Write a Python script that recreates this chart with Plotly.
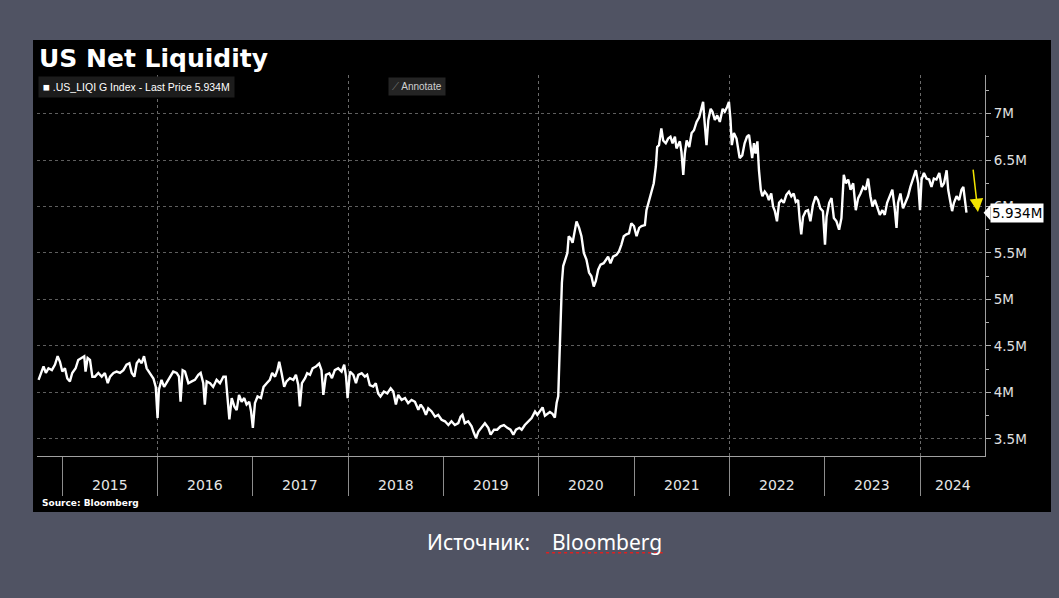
import plotly.graph_objects as go
import pandas as pd

# ---------------- data (values in millions) ----------------
dates = [
 "2014-10-03","2014-10-13","2014-10-22","2014-10-31","2014-11-10","2014-11-23","2014-12-05","2014-12-15","2014-12-24",
 "2015-01-02","2015-01-12","2015-01-21","2015-01-31","2015-02-09","2015-02-22","2015-03-04","2015-03-17","2015-03-27",
 "2015-04-01","2015-04-09","2015-04-18","2015-04-27","2015-05-07","2015-05-20","2015-06-02","2015-06-14","2015-06-25",
 "2015-07-04","2015-07-17","2015-07-29","2015-08-11","2015-08-24","2015-09-05","2015-09-16","2015-09-25","2015-10-05",
 "2015-10-14","2015-10-23","2015-11-02","2015-11-11","2015-11-21","2015-12-04","2015-12-17","2015-12-26",
 "2016-01-02","2016-01-07","2016-01-17","2016-01-27","2016-02-09","2016-02-18","2016-03-02","2016-03-15","2016-03-24",
 "2016-03-30","2016-04-07","2016-04-16","2016-04-29","2016-05-12","2016-05-24","2016-06-06","2016-06-15","2016-06-25",
 "2016-07-01","2016-07-08","2016-07-21","2016-08-02","2016-08-15","2016-08-28","2016-09-10","2016-09-19","2016-09-26",
 "2016-10-03","2016-10-12","2016-10-22","2016-10-31","2016-11-09","2016-11-19","2016-11-29","2016-12-08","2016-12-18",
 "2016-12-25",
 "2017-01-01","2017-01-09","2017-01-19","2017-02-01","2017-02-11","2017-02-23","2017-03-07","2017-03-16","2017-03-27",
 "2017-04-05","2017-04-12","2017-04-21","2017-05-01","2017-05-10","2017-05-23","2017-06-05","2017-06-15","2017-06-24",
 "2017-06-30","2017-07-08","2017-07-20","2017-07-28","2017-08-08","2017-08-18","2017-08-31","2017-09-12","2017-09-21",
 "2017-09-28","2017-10-08","2017-10-21","2017-10-31","2017-11-11","2017-11-24","2017-12-07","2017-12-17","2017-12-24",
 "2017-12-30",
 "2018-01-08","2018-01-21","2018-01-31","2018-02-09","2018-02-22","2018-03-06","2018-03-15","2018-03-25","2018-04-07",
 "2018-04-17","2018-04-26","2018-05-05","2018-05-18","2018-05-31","2018-06-13","2018-06-23","2018-07-03","2018-07-12",
 "2018-07-25","2018-08-07","2018-08-19","2018-09-01","2018-09-14","2018-09-27","2018-10-06","2018-10-16","2018-10-26",
 "2018-11-04","2018-11-17","2018-11-30","2018-12-12","2018-12-25",
 "2019-01-07","2019-01-20","2019-02-01","2019-02-14","2019-02-27","2019-03-08","2019-03-15","2019-03-24","2019-04-06",
 "2019-04-19","2019-04-28","2019-05-06","2019-05-15","2019-05-27","2019-06-09","2019-06-22","2019-07-01","2019-07-14",
 "2019-07-26","2019-08-08","2019-08-21","2019-09-03","2019-09-15","2019-09-26","2019-10-06","2019-10-19","2019-10-28",
 "2019-11-09","2019-11-22","2019-12-05","2019-12-18","2019-12-27",
 "2020-01-06","2020-01-16","2020-01-25","2020-02-03","2020-02-13","2020-02-23","2020-03-03","2020-03-10","2020-03-16",
 "2020-03-20","2020-03-25","2020-03-30","2020-04-04","2020-04-12","2020-04-20","2020-04-25","2020-05-02","2020-05-10",
 "2020-05-19","2020-05-25","2020-06-04","2020-06-13","2020-06-22","2020-07-02","2020-07-12","2020-07-21","2020-07-30",
 "2020-08-07","2020-08-16","2020-08-25","2020-09-06","2020-09-16","2020-09-23","2020-10-02","2020-10-12","2020-10-25",
 "2020-11-04","2020-11-13","2020-11-22","2020-12-02","2020-12-12","2020-12-21","2020-12-31",
 "2021-01-10","2021-01-20","2021-01-29","2021-02-11","2021-02-17","2021-02-27","2021-03-08","2021-03-17","2021-03-25",
 "2021-03-30","2021-04-06","2021-04-15","2021-04-22","2021-05-02","2021-05-11","2021-05-20","2021-05-28","2021-06-06",
 "2021-06-12","2021-06-18","2021-06-25","2021-07-01","2021-07-08","2021-07-14","2021-07-21","2021-07-31","2021-08-09",
 "2021-08-18","2021-08-28","2021-09-07","2021-09-16","2021-09-22","2021-09-27","2021-10-05","2021-10-12","2021-10-21",
 "2021-10-28","2021-11-06","2021-11-15","2021-11-25","2021-12-06","2021-12-14","2021-12-23","2021-12-30",
 "2022-01-05","2022-01-10","2022-01-18","2022-01-28","2022-02-09","2022-02-19","2022-02-28","2022-03-09","2022-03-17",
 "2022-03-23","2022-03-29","2022-04-05","2022-04-11","2022-04-18","2022-04-24","2022-05-01","2022-05-07","2022-05-16",
 "2022-05-25","2022-06-01","2022-06-10","2022-06-17","2022-06-24","2022-07-02","2022-07-10","2022-07-19","2022-07-28",
 "2022-08-07","2022-08-17","2022-08-26","2022-09-04","2022-09-12","2022-09-21","2022-09-27","2022-10-03","2022-10-10",
 "2022-10-20","2022-10-29","2022-11-07","2022-11-17","2022-11-27","2022-12-06","2022-12-15","2022-12-25",
 "2023-01-02","2023-01-08","2023-01-18","2023-01-27","2023-02-05","2023-02-15","2023-02-25","2023-03-06","2023-03-15",
 "2023-03-23","2023-04-01","2023-04-10","2023-04-20","2023-04-30","2023-05-09","2023-05-18","2023-05-28","2023-06-07",
 "2023-06-16","2023-06-25","2023-07-03","2023-07-12","2023-07-21","2023-07-31","2023-08-10","2023-08-19","2023-08-28",
 "2023-09-07","2023-09-17","2023-09-26","2023-10-03","2023-10-09","2023-10-18","2023-10-28","2023-11-07","2023-11-16",
 "2023-11-25","2023-12-05","2023-12-16","2023-12-25",
 "2024-01-01","2024-01-07","2024-01-16","2024-01-26","2024-02-05","2024-02-14","2024-02-23","2024-03-04","2024-03-15",
 "2024-03-24","2024-04-02","2024-04-12","2024-04-18","2024-04-25","2024-05-03","2024-05-10","2024-05-20","2024-05-30",
 "2024-06-08","2024-06-15","2024-06-21","2024-06-27",
]

liquidity = [
 4.136,4.225,4.28,4.21,4.26,4.24,4.30,4.39,4.33,
 4.225,4.26,4.15,4.12,4.21,4.26,4.35,4.37,4.39,
 4.225,4.37,4.35,4.17,4.17,4.21,4.17,4.21,4.10,
 4.17,4.21,4.225,4.21,4.24,4.30,4.315,4.21,4.17,
 4.315,4.35,4.315,4.39,4.26,4.21,4.15,4.06,
 3.725,4.03,4.136,4.06,4.12,4.17,4.225,4.21,4.17,
 3.90,4.24,4.225,4.10,4.12,4.136,4.19,4.21,4.10,
 3.87,4.12,4.10,4.06,4.136,4.10,4.17,4.17,3.94,
 3.71,3.94,3.85,3.81,3.975,3.90,3.94,3.87,3.90,
 3.80,
 3.62,3.886,3.957,3.94,4.06,4.10,4.136,4.21,4.17,
 4.24,4.33,4.21,4.06,4.12,4.154,4.136,4.19,4.08,
 3.85,4.10,4.154,4.207,4.19,4.26,4.28,4.31,4.24,
 3.975,4.19,4.207,4.154,4.24,4.26,4.225,4.30,4.17,
 3.94,
 4.225,4.19,4.10,4.19,4.207,4.17,4.19,4.08,4.064,
 4.10,3.99,3.957,4.01,3.99,4.046,4.01,3.87,3.975,
 3.92,3.94,3.886,3.92,3.90,3.814,3.87,3.83,3.76,
 3.83,3.796,3.74,3.76,3.707,
 3.69,3.65,3.69,3.65,3.67,3.74,3.76,3.67,3.69,
 3.636,3.564,3.51,3.58,3.62,3.67,3.62,3.546,3.60,
 3.60,3.636,3.65,3.62,3.60,3.546,3.60,3.62,3.60,
 3.65,3.69,3.725,3.796,3.76,
 3.80,3.84,3.75,3.77,3.79,3.77,3.73,3.89,3.96,
 4.32,4.79,5.18,5.36,5.43,5.50,5.68,5.66,5.61,
 5.75,5.84,5.77,5.68,5.50,5.43,5.29,5.25,5.14,
 5.20,5.32,5.375,5.39,5.43,5.46,5.39,5.46,5.48,
 5.52,5.59,5.68,5.70,5.71,5.82,5.79,
 5.68,5.77,5.79,5.80,5.96,6.07,6.18,6.25,6.43,
 6.64,6.66,6.84,6.71,6.68,6.73,6.75,6.68,6.75,
 6.625,6.66,6.70,6.59,6.34,6.57,6.71,6.64,6.79,
 6.82,6.91,6.96,7.07,7.125,6.93,6.66,6.93,7.05,
 7.02,6.93,6.98,6.91,7.05,7.02,7.07,7.125,
 6.93,6.66,6.79,6.73,6.52,6.55,6.68,6.75,6.77,
 6.66,6.52,6.68,6.57,6.70,6.39,6.18,6.11,6.16,
 6.125,6.07,6.14,6.00,5.95,5.84,6.04,6.07,6.04,
 6.125,6.16,6.11,6.14,6.05,6.07,5.86,5.70,5.89,
 5.95,5.96,5.84,6.02,6.11,6.07,5.98,5.95,
 5.59,5.89,6.04,6.09,5.875,5.84,5.75,5.875,6.34,
 6.25,6.29,6.18,6.25,5.96,6.09,6.14,6.21,6.18,
 6.30,6.11,6.00,6.07,6.00,5.91,5.96,5.91,6.04,
 6.11,6.18,5.98,5.77,6.04,6.14,5.98,6.04,6.11,
 6.21,6.29,6.39,6.25,
 5.96,6.29,6.36,6.30,6.29,6.21,6.30,6.29,6.36,
 6.21,6.25,6.39,6.18,6.07,5.95,6.04,6.11,6.07,
 6.18,6.21,6.07,5.934,
]

year_labels = ["2015","2016","2017","2018","2019","2020","2021","2022","2023","2024"]
y_ticks = [3.5, 4.0, 4.5, 5.0, 5.5, 6.0, 6.5, 7.0]
y_tick_text = ["3.5M","4M","4.5M","5M","5.5M","6M","6.5M","7M"]
y_minor = [3.25, 3.75, 4.25, 4.75, 5.25, 5.75, 6.25, 6.75, 7.25]
last_price = 5.934
x_start, x_end = "2014-09-27", "2024-09-06"
arrow_tip = ("2024-08-10", 5.94)

# ---------------- figure ----------------
BG = "#505363"
FONT = "DejaVu Sans"

fig = go.Figure()
fig.add_trace(go.Scatter(x=pd.to_datetime(dates), y=liquidity, mode="lines",
                         line=dict(color="white", width=2.4), showlegend=False,
                         hoverinfo="x+y"))

year_starts = [f"{y}-01-01" for y in year_labels]
even_years = [f"{y}-01-01" for y in year_labels if int(y) % 2 == 0]

fig.update_layout(
    width=1059, height=598,
    margin=dict(l=37, r=74, t=75, b=142),
    paper_bgcolor=BG, plot_bgcolor="black",
    font=dict(family=FONT, color="#e0e0e0"),
    xaxis=dict(type="date", range=[x_start, x_end],
               tickmode="array", tickvals=year_starts, showticklabels=False,
               ticks="outside", ticklen=39, tickcolor="#8c8c8c", tickwidth=1,
               showline=True, linecolor="#a0a0a0", linewidth=1,
               showgrid=False, zeroline=False,
               minor=dict(tickmode="array", tickvals=even_years, ticks="",
                          showgrid=True, gridcolor="#6a6a6a", griddash="dot", gridwidth=1)),
    yaxis=dict(side="right", range=[3.317, 7.414],
               tickmode="array", tickvals=y_ticks, ticktext=y_tick_text,
               ticks="outside", ticklen=5, tickcolor="#b0b0b0",
               tickfont=dict(family=FONT, size=13.5, color="#e0e0e0"),
               showline=True, linecolor="#a0a0a0", linewidth=1,
               showgrid=True, gridcolor="#5e5e5e", griddash="dot", gridwidth=1,
               zeroline=False,
               minor=dict(tickmode="array", tickvals=y_minor, ticks="outside",
                          ticklen=3, tickcolor="#b0b0b0", showgrid=False)),
)

# black panel behind chart
fig.add_shape(type="rect", xref="paper", yref="paper",
              x0=-0.0042, x1=1.0696, y0=-0.147, y1=1.0919,
              fillcolor="black", line=dict(width=0), layer="below")

ann = []
# year labels centred in each (visible) year span
t_end = pd.Timestamp(x_end)
for y in year_labels:
    a = pd.Timestamp(f"{y}-01-01")
    b = min(pd.Timestamp(f"{int(y)+1}-01-01"), t_end)
    mid = a + (b - a) / 2
    ann.append(dict(x=mid, y=-0.076, xref="x", yref="paper", yanchor="middle", text=y,
                    showarrow=False, font=dict(family=FONT, size=14, color="#e6e6e6")))

# title
ann.append(dict(x=0.0, y=1.0446, xref="paper", yref="paper", xanchor="left", yanchor="middle",
                text="<b>US Net Liquidity</b>", showarrow=False,
                font=dict(family="DejaVu Sans", size=25, color="white")))
# legend box
ann.append(dict(x=0.001, y=0.968, xref="paper", yref="paper", xanchor="left", yanchor="middle",
                text="<span style='font-size:11.5px'>■</span> .US_LIQI G Index - Last Price 5.934M",
                showarrow=False, align="left", bgcolor="#1c1c1c", borderpad=4,
                font=dict(family="Liberation Sans", size=10.5, color="white")))
# annotate button
ann.append(dict(x=0.401, y=0.971, xref="paper", yref="paper", yanchor="middle",
                text="<span style='color:#777'>⟋</span> Annotate", showarrow=False,
                bgcolor="#242424", borderpad=3,
                font=dict(family="Liberation Sans", size=10, color="#d0d0d0")))
# source
ann.append(dict(x=0.003, y=-0.123, xref="paper", yref="paper", xanchor="left", yanchor="middle",
                text="<b>Source: Bloomberg</b>", showarrow=False,
                font=dict(family=FONT, size=9, color="white")))
# caption below
ann.append(dict(x=0.409, y=-0.2257, xref="paper", yref="paper", xanchor="left", yanchor="middle",
                text="Источник:\u00a0\u00a0\u00a0 Bloomberg", showarrow=False,
                font=dict(family="Noto Sans", size=21, color="white")))
# last price label
ann.append(dict(x=1.0055, y=last_price, xref="paper", yref="y", xanchor="left", yanchor="middle",
                text=f"{last_price:.3f}M", showarrow=False, bgcolor="white", borderpad=1,
                font=dict(family=FONT, size=13.5, color="black")))
# yellow arrow
ann.append(dict(x=arrow_tip[0], y=arrow_tip[1], xref="x", yref="y", ax=-5, ay=-44,
                text="", showarrow=True, arrowcolor="#f2e400", arrowhead=2,
                arrowsize=1.8, arrowwidth=1.5))
fig.update_layout(annotations=ann)

# pointer for last price label
fig.add_shape(type="path", xref="paper", yref="y",
              path=f"M 0.9985,{last_price} L 1.0058,{last_price+0.085} L 1.0058,{last_price-0.085} Z",
              fillcolor="white", line=dict(width=0))
# red spell-check squiggle under "Bloomberg"
fig.add_shape(type="line", xref="paper", yref="paper", x0=0.537, x1=0.660, y0=-0.254, y1=-0.254,
              line=dict(color="#e02020", width=1.5, dash="dot"))

fig.write_html("out.html", config={"displayModeBar": False},
               post_script="document.body.style.margin='0';document.body.style.background='#505363';")
